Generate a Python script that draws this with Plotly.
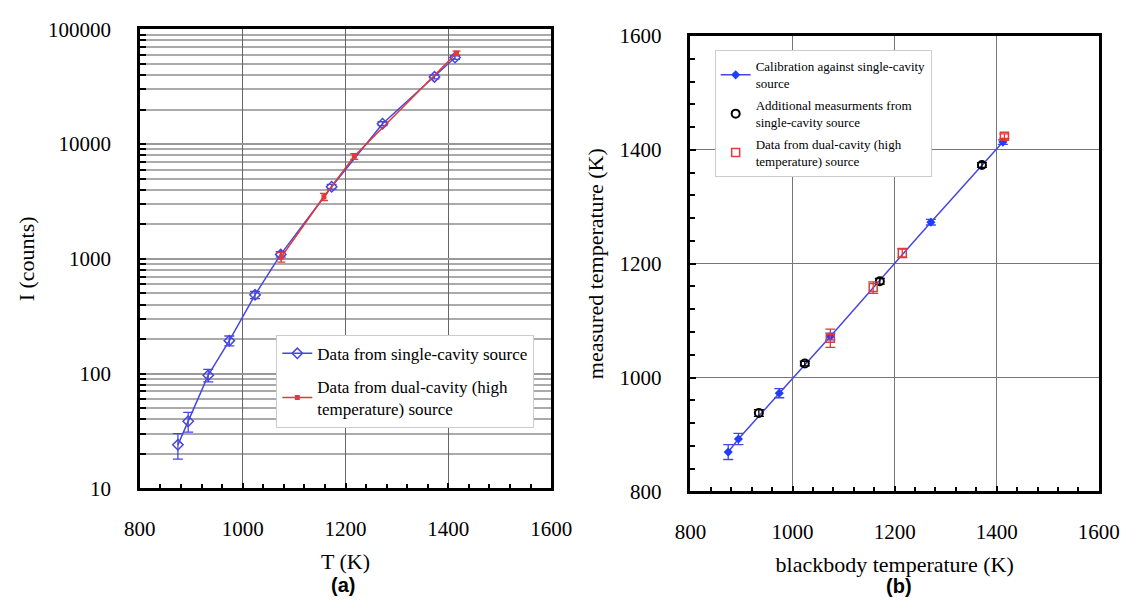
import plotly.graph_objects as go

# ---- Panel (a): intensity vs temperature ----
T_single = [874, 894, 933, 974, 1024, 1074, 1173, 1272, 1373, 1413]
I_single = [24, 38.5, 97, 194, 486, 1094, 4250, 15060, 38500, 56800]
I_single_err = [6, 7.5, 12, 19, 35, 60, 200, 600, 1500, 2000]

T_dual = [1075, 1158, 1217, 1416]
I_dual = [1037, 3475, 7820, 62100]
I_dual_err = [100, 250, 450, 2500]

# ---- Panel (b): measured vs blackbody temperature ----
Tb_calib = [874, 894, 974, 1074, 1271, 1412]
Tm_calib = [869, 892, 972.5, 1072, 1273, 1413.6]
Tm_calib_err = [13, 10, 8, 6, 5, 4]

Tb_add = [934, 1024, 1171, 1371]
Tm_add = [937.7, 1024.6, 1169, 1373.4]
Tm_add_err = [6, 4, 5, 4]

Tb_dual = [1074, 1158, 1215, 1415]
Tm_dual = [1069, 1158, 1218.7, 1424]
Tm_dual_err = [16, 10, 8, 4]

x_ticks = [800, 1000, 1200, 1400, 1600]
y_ticks_a = [10, 100, 1000, 10000, 100000]
y_ticks_a_text = ["10", "100", "1000", "10000", "100000"]
y_ticks_b = [800, 1000, 1200, 1400, 1600]

BLUE = "#4747e0"
RED = "#e03a3a"
SERIF = "Liberation Serif"

fig = go.Figure()

fig.add_trace(go.Scatter(
    x=T_single, y=I_single, mode="lines+markers", name="Data from single-cavity source",
    line=dict(color=BLUE, width=1.5),
    marker=dict(symbol="diamond-open", size=8, color=BLUE, line=dict(width=1.5)),
    error_y=dict(type="data", array=I_single_err, color=BLUE, thickness=1.3, width=5),
    xaxis="x", yaxis="y", legend="legend", legendgroup="a1"))
fig.add_trace(go.Scatter(
    x=T_dual, y=I_dual, mode="lines+markers",
    name="Data from dual-cavity (high<br>temperature) source",
    line=dict(color=RED, width=1.5),
    marker=dict(symbol="square", size=5, color=RED),
    error_y=dict(type="data", array=I_dual_err, color=RED, thickness=1.3, width=4),
    xaxis="x", yaxis="y", legend="legend", legendgroup="a2"))

fig.add_trace(go.Scatter(
    x=Tb_calib, y=Tm_calib, mode="lines+markers",
    name="Calibration against single-cavity<br>source",
    line=dict(color=BLUE, width=1.5),
    marker=dict(symbol="diamond", size=7, color="#1f3fff"),
    error_y=dict(type="data", array=Tm_calib_err, color=BLUE, thickness=1.3, width=5),
    xaxis="x2", yaxis="y2", legend="legend2", legendgroup="b1"))
fig.add_trace(go.Scatter(
    x=Tb_add, y=Tm_add, mode="markers",
    name="Additional measurments from<br>single-cavity source",
    marker=dict(symbol="circle-open", size=8, color="black", line=dict(width=2)),
    error_y=dict(type="data", array=Tm_add_err, color="black", thickness=1.3, width=5),
    xaxis="x2", yaxis="y2", legend="legend2", legendgroup="b2"))
fig.add_trace(go.Scatter(
    x=Tb_dual, y=Tm_dual, mode="markers",
    name="Data from dual-cavity (high<br>temperature) source",
    marker=dict(symbol="square-open", size=8, color=RED, line=dict(width=1.5)),
    error_y=dict(type="data", array=Tm_dual_err, color=RED, thickness=1.3, width=5),
    xaxis="x2", yaxis="y2", legend="legend2", legendgroup="b3"))

axis_common = dict(
    showline=True, linecolor="black", linewidth=2.5, mirror=True,
    ticks="inside", ticklen=6, tickwidth=2, tickcolor="black",
    tickfont=dict(family=SERIF, size=21, color="black"),
    zeroline=False,
)

fig.update_layout(
    width=1145, height=610, margin=dict(l=0, r=0, t=0, b=0),
    paper_bgcolor="white", plot_bgcolor="white",
    font=dict(family=SERIF, color="black"),
    xaxis=dict(domain=[0.1118, 0.4830], anchor="y", range=[800, 1600],
               tickvals=x_ticks, ticklabelstandoff=20,
               showgrid=True, gridcolor="#666", gridwidth=1,
               minor=dict(dtick=40, ticks="inside", ticklen=5, tickwidth=2, tickcolor="black", showgrid=False),
               title=dict(text="T (K)", font=dict(family=SERIF, size=22), standoff=14),
               **axis_common),
    yaxis=dict(domain=[0.1869, 0.9705], anchor="x", type="log", range=[1, 5],
               tickvals=y_ticks_a, ticktext=y_ticks_a_text, ticklabelstandoff=22,
               showgrid=True, gridcolor="#999", gridwidth=1.5,
               minor=dict(dtick="D1", ticks="inside", ticklen=6, tickwidth=2, tickcolor="black",
                          showgrid=True, gridcolor="#aaa", gridwidth=1.5),
               title=dict(text="I (counts)", font=dict(family=SERIF, size=22), standoff=8),
               **axis_common),
    xaxis2=dict(domain=[0.6087, 0.9773], anchor="y2", range=[800, 1600],
                tickvals=x_ticks, ticklabelstandoff=20,
                showgrid=True, gridcolor="#777", gridwidth=1,
                minor=dict(dtick=40, ticks="inside", ticklen=5, tickwidth=2, tickcolor="black", showgrid=False),
                title=dict(text="blackbody temperature (K)", font=dict(family=SERIF, size=22), standoff=14),
                **axis_common),
    yaxis2=dict(domain=[0.182, 0.959], anchor="x2", range=[800, 1600],
                tickvals=y_ticks_b, ticklabelstandoff=22,
                showgrid=True, gridcolor="#777", gridwidth=1,
                minor=dict(dtick=40, ticks="inside", ticklen=5, tickwidth=2, tickcolor="black", showgrid=False),
                title=dict(text="measured temperature (K)", font=dict(family=SERIF, size=22), standoff=10),
                **axis_common),
    legend=dict(x=269/1145, y=1 - 336/610, xanchor="left", yanchor="top",
                bgcolor="white", bordercolor="#ccc", borderwidth=1,
                font=dict(family=SERIF, size=17, color="black"),
                traceorder="grouped", tracegroupgap=8, itemwidth=30),
    legend2=dict(x=722/1145, y=1 - 40/610, xanchor="left", yanchor="top",
                 bgcolor="white", bordercolor="#ccc", borderwidth=1,
                 font=dict(family=SERIF, size=13, color="black"),
                 traceorder="grouped", tracegroupgap=2, itemwidth=30),
    showlegend=True,
    annotations=[
        dict(text="<b>(a)</b>", x=338/1145, y=1 - 596/610, xref="paper", yref="paper",
             xanchor="center", yanchor="middle",
             showarrow=False, font=dict(family="Liberation Sans", size=20)),
        dict(text="<b>(b)</b>", x=913/1145, y=1 - 598/610, xref="paper", yref="paper",
             xanchor="center", yanchor="middle",
             showarrow=False, font=dict(family="Liberation Sans", size=20)),
    ],
)

fig.write_html("out.html")
